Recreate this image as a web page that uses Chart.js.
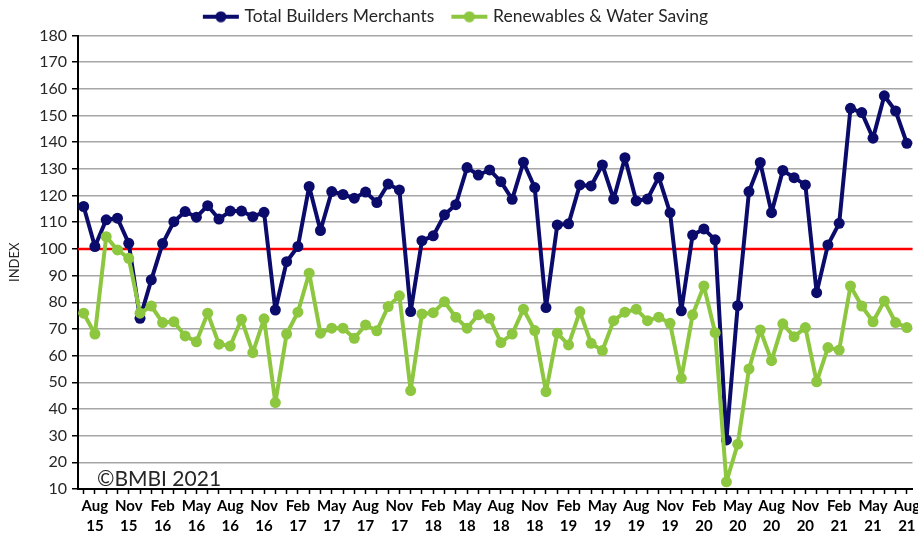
<!DOCTYPE html>
<html>
<head>
<meta charset="utf-8">
<script src="https://cdn.jsdelivr.net/npm/chart.js@4.4.1/dist/chart.umd.min.js"></script>
<style>
  html, body { margin: 0; padding: 0; background: #ffffff; }
  #wrap { width: 918px; height: 536px; }
</style>
</head>
<body>
<div id="wrap"><canvas id="chart" width="918" height="536"></canvas></div>
<script>
// Monthly categories, July 2015 to August 2021
const months = [
  'Jul 15','Aug 15','Sep 15','Oct 15','Nov 15','Dec 15',
  'Jan 16','Feb 16','Mar 16','Apr 16','May 16','Jun 16','Jul 16','Aug 16','Sep 16','Oct 16','Nov 16','Dec 16',
  'Jan 17','Feb 17','Mar 17','Apr 17','May 17','Jun 17','Jul 17','Aug 17','Sep 17','Oct 17','Nov 17','Dec 17',
  'Jan 18','Feb 18','Mar 18','Apr 18','May 18','Jun 18','Jul 18','Aug 18','Sep 18','Oct 18','Nov 18','Dec 18',
  'Jan 19','Feb 19','Mar 19','Apr 19','May 19','Jun 19','Jul 19','Aug 19','Sep 19','Oct 19','Nov 19','Dec 19',
  'Jan 20','Feb 20','Mar 20','Apr 20','May 20','Jun 20','Jul 20','Aug 20','Sep 20','Oct 20','Nov 20','Dec 20',
  'Jan 21','Feb 21','Mar 21','Apr 21','May 21','Jun 21','Jul 21','Aug 21'
];

// Index values
const totalBuildersMerchants = [
  115.9, 100.9, 110.9, 111.5, 102.1, 74.0,
  88.4, 102.0, 110.2, 114.0, 111.9, 116.2, 111.2, 114.2, 114.2, 112.1, 113.7, 77.1,
  95.2, 100.9, 123.4, 106.9, 121.5, 120.4, 119.0, 121.3, 117.4, 124.3, 122.1, 76.5,
  103.1, 104.9, 112.8, 116.6, 130.5, 127.7, 129.6, 125.2, 118.6, 132.5, 123.0, 78.0,
  109.0, 109.4, 124.0, 123.6, 131.5, 118.7, 134.2, 118.0, 118.7, 126.9, 113.6, 76.8,
  105.2, 107.5, 103.4, 28.4, 78.7, 121.5, 132.4, 113.6, 129.4, 126.7, 124.0, 83.6,
  101.5, 109.6, 152.7, 151.1, 141.5, 157.4, 151.7, 139.6
];

const renewablesWaterSaving = [
  75.9, 68.1, 104.6, 99.6, 96.5, 75.9,
  78.6, 72.4, 72.7, 67.4, 65.2, 75.9, 64.3, 63.6, 73.6, 61.1, 73.8, 42.4,
  68.1, 76.3, 90.9, 68.4, 70.3, 70.3, 66.5, 71.5, 69.3, 78.4, 82.4, 46.9,
  75.6, 76.1, 80.2, 74.4, 70.3, 75.3, 74.0, 64.9, 68.1, 77.4, 69.4, 46.5,
  68.4, 64.0, 76.5, 64.6, 61.9, 73.1, 76.3, 77.4, 73.1, 74.4, 72.1, 51.5,
  75.3, 86.1, 68.6, 12.7, 26.8, 55.0, 69.6, 58.1, 71.9, 67.1, 70.5, 50.2,
  63.0, 62.1, 86.1, 78.6, 72.7, 80.5, 72.4, 70.5
];

// Months that carry an axis label
const labelledMonths = ['Feb', 'May', 'Aug', 'Nov'];

const BASELINE = 100;
const NAVY = '#0b0b6b';
const GREEN = '#8dc63f';
const FONT = 'Lato, "Open Sans", sans-serif';

Chart.defaults.font.family = FONT;
Chart.defaults.color = '#262626';

// Legend swatch: short line with a dot in the middle
function legendSwatch(color) {
  const c = document.createElement('canvas');
  c.width = 38; c.height = 12;
  const g = c.getContext('2d');
  g.strokeStyle = color; g.lineWidth = 4;
  g.beginPath(); g.moveTo(1, 6); g.lineTo(37, 6); g.stroke();
  g.fillStyle = color;
  g.beginPath(); g.arc(19, 6, 5.5, 0, Math.PI * 2); g.fill();
  return c;
}
const swatches = [legendSwatch(NAVY), legendSwatch(GREEN)];

// Red reference line at index 100, behind the series
const baselinePlugin = {
  id: 'baseline',
  beforeDatasetsDraw(chart) {
    const { ctx, chartArea, scales } = chart;
    const y = scales.y.getPixelForValue(BASELINE);
    ctx.save();
    ctx.strokeStyle = '#ff0000';
    ctx.lineWidth = 2.5;
    ctx.beginPath();
    ctx.moveTo(chartArea.left, y);
    ctx.lineTo(chartArea.right, y);
    ctx.stroke();
    ctx.restore();
  }
};

// Copyright note in the lower left of the plot
const copyrightPlugin = {
  id: 'copyright',
  afterDraw(chart) {
    const { ctx } = chart;
    ctx.save();
    ctx.font = '21px ' + FONT;
    ctx.fillStyle = '#262626';
    ctx.textBaseline = 'alphabetic';
    ctx.fillText('\u00A9BMBI 2021', 97, 486);
    ctx.restore();
  }
};

new Chart(document.getElementById('chart'), {
  type: 'line',
  data: {
    labels: months,
    datasets: [
      {
        label: 'Total Builders Merchants',
        data: totalBuildersMerchants,
        borderColor: NAVY,
        backgroundColor: NAVY,
        borderWidth: 4,
        borderJoinStyle: 'round',
        borderCapStyle: 'round',
        pointRadius: 5.5,
        pointBorderWidth: 0,
        pointBackgroundColor: NAVY,
        tension: 0,
        order: 1
      },
      {
        label: 'Renewables & Water Saving',
        data: renewablesWaterSaving,
        borderColor: GREEN,
        backgroundColor: GREEN,
        borderWidth: 4,
        borderJoinStyle: 'round',
        borderCapStyle: 'round',
        pointRadius: 5.5,
        pointBorderWidth: 0,
        pointBackgroundColor: GREEN,
        tension: 0,
        order: 0
      }
    ]
  },
  options: {
    responsive: false,
    animation: false,
    devicePixelRatio: 1,
    layout: { padding: { top: -12, right: 4, left: 0, bottom: 0 } },
    plugins: {
      tooltip: { enabled: false },
      legend: {
        position: 'top',
        align: 'center',
        labels: {
          usePointStyle: true,
          pointStyleWidth: 30,
          boxHeight: 12,
          padding: 20,
          font: { size: 17.5 },
          color: '#262626',
          sort: (a, b) => a.datasetIndex - b.datasetIndex,
          generateLabels(chart) {
            const items = Chart.defaults.plugins.legend.labels.generateLabels(chart);
            items.forEach(it => { it.pointStyle = swatches[it.datasetIndex]; });
            return items;
          }
        }
      }
    },
    scales: {
      x: {
        type: 'category',
        offset: true,
        grid: {
          display: true,
          drawOnChartArea: false,
          drawTicks: true,
          tickLength: 5,
          tickColor: '#000000',
          tickWidth: 1.5
        },
        border: { display: true, color: '#000000', width: 2 },
        ticks: {
          autoSkip: false,
          maxRotation: 0,
          minRotation: 0,
          padding: 2,
          color: '#000000',
          font: { size: 15, weight: 'bold', lineHeight: 1.35 },
          callback(value, index) {
            const lab = this.getLabelForValue(value);
            const [m, y] = lab.split(' ');
            return labelledMonths.includes(m) ? [m, y] : '';
          }
        },
        afterFit(scale) {
          scale.height = 47;
          scale.paddingRight = 4;
        }
      },
      y: {
        min: 10,
        max: 180,
        ticks: {
          stepSize: 10,
          padding: 5,
          color: '#262626',
          font: { size: 16 }
        },
        grid: {
          color: '#a6a6a6',
          lineWidth: 1.5,
          tickLength: 6,
          tickColor: '#000000'
        },
        border: { display: true, color: '#000000', width: 2 },
        title: {
          display: true,
          text: 'INDEX',
          color: '#262626',
          font: { size: 13 },
          padding: { top: 7, bottom: 0 }
        },
        afterFit(scale) {
          scale.width = 78;
        }
      }
    }
  },
  plugins: [baselinePlugin, copyrightPlugin]
});
</script>
</body>
</html>
